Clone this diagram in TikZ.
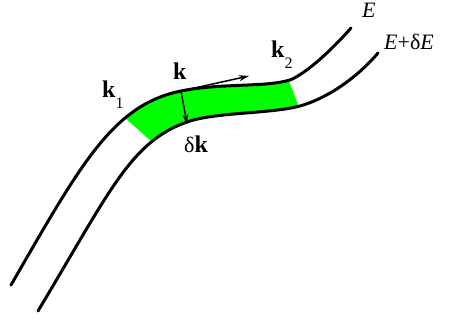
\documentclass[tikz,border=0pt]{standalone}
\usepackage{fontspec}
\setmainfont{Liberation Serif}
\usetikzlibrary{arrows.meta}
\definecolor{bandgreen}{HTML}{00FF00}
\newcommand{\kvec}{{\fontsize{24}{28}\selectfont\bfseries k}}
\newcommand{\ksub}[1]{\raisebox{-11pt}{\fontsize{16}{16}\selectfont #1}}

\begin{document}
\begin{tikzpicture}[
    x=1pt, y=-1pt,
    every node/.style={font=\fontsize{22}{26}\selectfont, inner sep=0pt, anchor=base west},
    isoline/.style={line width=3pt, line cap=round},
    vecarrow/.style={-{Stealth[length=10pt,width=6pt]}, line width=1.5pt}
]
    \useasboundingbox (0,0) rectangle (449,320);

    \begin{scope}
        \clip (105,100) -- (283,65) -- (305,123) -- (170,158) -- cycle;
        \fill[bandgreen] (11,285) .. controls (81,164) and (112.4,105) .. (181,91)
            .. controls (220,83) and (265,87.5) .. (290,80) .. controls (305,74) and (330,52) .. (351,28)
            -- (378,53) .. controls (355,80) and (325,99) .. (300,106) .. controls (270,114) and (215,112) .. (187,122)
            .. controls (130.6,141.8) and (110,191) .. (38,311) -- cycle;
    \end{scope}

    \draw[isoline] (11,285) .. controls (81,164) and (112.4,105) .. (181,91)
        .. controls (220,83) and (265,87.5) .. (290,80) .. controls (305,74) and (330,52) .. (351,28);
    \draw[isoline] (38,311) .. controls (110,191) and (130.6,141.8) .. (187,122)
        .. controls (215,112) and (270,114) .. (300,106) .. controls (325,99) and (355,80) .. (378,53);

    \coordinate (kpt) at (181,91);
    \coordinate (ktip) at (249,76);
    \coordinate (dktip) at (187,124);
    \draw[vecarrow] (kpt) -- (ktip);
    \draw[vecarrow] (kpt) -- (dktip);

    \node (klab) at (173,80) {\kvec};
    \node (konelab) at (102,98) {\kvec\ksub{1}};
    \node (ktwolab) at (271,58) {\kvec\ksub{2}};
    \node (dklab) at (184,153) {δ\kvec};
    \node (elab) at (362,18) {\textit{E}};
    \node (edelab) at (384,50) {\textit{E}+δ\textit{E}};
\end{tikzpicture}
\end{document}
